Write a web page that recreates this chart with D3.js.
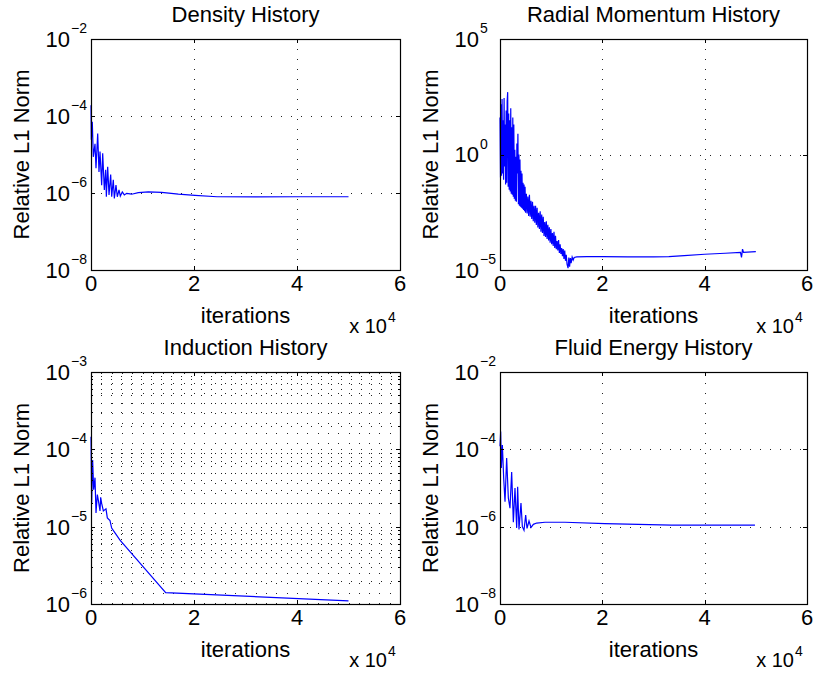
<!DOCTYPE html>
<html>
<head>
<meta charset="utf-8">
<style>
  body { margin: 0; background: #fff; }
  text { font-family: "Liberation Sans", Arial, Helvetica, sans-serif; fill: #000; }
</style>
</head>
<body>
<script src="https://cdn.jsdelivr.net/npm/d3@7"></script>
<script>

// x axis ticks (iterations), labelled in units of 10^4
var xTickValues = [0, 20000, 40000, 60000];

// y axis decades (exponents) for each panel
var densityTicks = [-8, -6, -4, -2];
var radialTicks = [-5, 0, 5];
var inductionTicks = [-6, -5, -4, -3];
var energyTicks = [-8, -6, -4, -2];

// [iteration, relative L1 norm]
var densityData = [
    [0, 1.9e-4], [60, 2.4e-5], [250, 7.1e-5], [450, 8.7e-6], [780, 1.9e-5],
    [970, 4.4e-6], [1300, 3.5e-5], [1550, 3.5e-6], [1750, 1.2e-5], [2070, 1.6e-6],
    [2270, 1.07e-5], [2590, 1.2e-6], [2850, 4.0e-6], [2980, 8.0e-7], [3240, 4.8e-6],
    [3500, 8.9e-7], [3820, 3.0e-6], [4020, 8.0e-7], [4330, 2.2e-6], [4530, 7.2e-7],
    [4850, 1.6e-6], [5110, 8.0e-7], [5440, 1.2e-6], [5690, 8.3e-7], [6080, 1.07e-6],
    [6470, 8.9e-7], [6930, 9.8e-7], [7900, 9.3e-7], [9180, 1.02e-6], [11130, 1.07e-6],
    [13720, 1.04e-6], [16960, 9.3e-7], [20190, 8.7e-7], [24470, 8.0e-7], [32000, 7.9e-7],
    [40000, 8.0e-7], [50000, 8.0e-7]
];

var radialData = [
    [0, 40], [100, 0.1], [200, 150], [300, 0.12], [400, 250], [500, 0.15], [600, 30],
    [700, 0.08], [800, 280], [900, 0.3], [1000, 20], [1100, 0.05], [1200, 80], [1300, 0.06],
    [1400, 200], [1500, 500], [1600, 0.04], [1700, 60], [1800, 0.03], [1900, 30], [2000, 0.025],
    [2100, 100], [2200, 0.02], [2300, 15], [2400, 0.018], [2500, 40], [2600, 0.015], [2700, 20],
    [2800, 0.012], [2900, 1.6], [3000, 0.01], [3100, 0.8], [3200, 0.009], [3300, 3], [3400, 0.15],
    [3500, 8], [3600, 0.007], [3700, 1], [3800, 0.006], [3900, 0.6], [4000, 0.0055], [4100, 0.2],
    [4200, 0.005], [4300, 0.15], [4400, 0.0045], [4500, 0.06], [4600, 0.004], [4700, 0.05],
    [4800, 0.0035], [4900, 0.04], [5000, 0.003], [5150, 0.02], [5300, 0.0028], [5450, 0.015],
    [5600, 0.0022], [5750, 0.018], [5900, 0.002], [6050, 0.01], [6200, 0.0016], [6350, 0.009],
    [6500, 0.0013], [6650, 0.006], [6800, 0.0011], [6950, 0.006], [7100, 9e-4], [7250, 0.005],
    [7400, 7e-4], [7550, 0.003], [7700, 6e-4], [7850, 0.0035], [8000, 4.5e-4], [8150, 0.0025],
    [8300, 4e-4], [8450, 0.002], [8600, 3e-4], [8750, 0.0012], [8900, 2.7e-4], [9050, 0.0013],
    [9200, 2.2e-4], [9350, 9e-4], [9500, 1.9e-4], [9650, 7e-4], [9800, 1.5e-4], [9950, 6e-4],
    [10100, 1.3e-4], [10250, 4e-4], [10400, 1.1e-4], [10550, 4.5e-4], [10700, 9e-5], [10850, 3e-4],
    [11000, 8e-5], [11150, 1.8e-4], [11300, 7e-5], [11450, 2e-4], [11600, 5.5e-5], [11750, 1.3e-4],
    [11900, 5e-5], [12050, 9e-5], [12200, 4e-5], [12350, 8e-5], [12500, 3e-5], [12650, 7e-5],
    [12800, 2.5e-5], [12950, 4.5e-5], [13100, 1.8e-5], [13300, 1.2e-5], [13450, 3.5e-5], [13600, 1.4e-5],
    [13750, 3.3e-5], [13900, 2e-5], [14100, 3.6e-5], [14300, 2.7e-5], [14500, 3.5e-5], [15000, 3.7e-5],
    [17000, 3.8e-5], [20000, 3.8e-5], [25000, 3.7e-5], [30000, 3.7e-5], [33000, 3.8e-5], [36000, 4.2e-5],
    [40000, 4.8e-5], [44000, 5.3e-5], [47000, 5.8e-5], [47200, 3.5e-5], [47400, 8e-5], [47600, 5.8e-5],
    [50000, 6.2e-5]
];

var inductionData = [
    [0, 1.45e-4], [130, 2.0e-5], [320, 7.3e-5], [520, 3.0e-5], [780, 4.3e-5], [970, 1.5e-5],
    [1230, 2.6e-5], [1420, 2.2e-5], [1750, 1.6e-5], [1880, 2.4e-5], [2070, 2.0e-5], [2400, 1.6e-5],
    [2910, 1.7e-5], [3170, 1.3e-5], [3690, 1.2e-5], [4010, 9.6e-6], [4660, 8.3e-6], [5630, 6.7e-6],
    [14500, 1.4e-6], [50000, 1.1e-6]
];

var energyData = [
    [0, 1.2e-4], [130, 2.9e-4], [260, 3.3e-5], [460, 1.3e-4], [720, 1.8e-5], [980, 4.4e-6],
    [1300, 6.0e-5], [1630, 5.5e-6], [1950, 3.0e-6], [2280, 2.6e-5], [2610, 1.3e-6], [2930, 1.0e-5],
    [3260, 9.3e-7], [3450, 1.07e-5], [3710, 8.5e-7], [4100, 4.1e-6], [4370, 1.0e-6], [4690, 8.1e-7],
    [5020, 2.0e-6], [5280, 9.0e-7], [5670, 1.4e-6], [6060, 9.5e-7], [6520, 1.15e-6], [7160, 1.24e-6],
    [8790, 1.3e-6], [12700, 1.3e-6], [20500, 1.2e-6], [33550, 1.1e-6], [49830, 1.1e-6]
];

var panels = [
    { title: "Density History", data: densityData, ticks: densityTicks, minor: false,
      left: 91, top: 39, width: 309, height: 231 },
    { title: "Radial Momentum History", data: radialData, ticks: radialTicks, minor: false,
      left: 500, top: 39, width: 307, height: 231 },
    { title: "Induction History", data: inductionData, ticks: inductionTicks, minor: true,
      left: 91, top: 372, width: 309, height: 232 },
    { title: "Fluid Energy History", data: energyData, ticks: energyTicks, minor: false,
      left: 500, top: 372, width: 307, height: 232 }
];

var svg = d3.select("body").append("svg")
    .attr("width", 815)
    .attr("height", 675);

var tickLen = 4;
var gridDash = "1,9";

panels.forEach(drawPanel);

function drawPanel(p) {
    var g = svg.append("g")
        .attr("transform", "translate(" + p.left + "," + p.top + ")");

    var x = d3.scaleLinear()
        .domain([0, 60000])
        .range([0, p.width]);

    var lo = Math.pow(10, p.ticks[0]),
        hi = Math.pow(10, p.ticks[p.ticks.length - 1]);
    var y = d3.scaleLog()
        .domain([lo, hi])
        .range([p.height, 0]);

    var yMajor = p.ticks.map(function(e) { return Math.pow(10, e); });

    // grid
    var xGrid = p.minor ? d3.range(2000, 60000, 2000) : [20000, 40000];
    var yGrid = yMajor.slice(1, -1);
    var yMinor = [];
    if (p.minor) {
        for (var e = p.ticks[0]; e < p.ticks[p.ticks.length - 1]; e++) {
            for (var k = 2; k <= 9; k++) yMinor.push(k * Math.pow(10, e));
        }
        yGrid = yGrid.concat(yMinor);
    }

    var grid = g.append("g")
        .attr("stroke", "#222")
        .attr("stroke-width", 1)
        .attr("stroke-dasharray", gridDash);

    grid.selectAll(".gx").data(xGrid).enter().append("line")
        .attr("x1", function(d) { return Math.round(x(d)) + 0.5; })
        .attr("x2", function(d) { return Math.round(x(d)) + 0.5; })
        .attr("y1", p.height)
        .attr("y2", 0);

    grid.selectAll(".gy").data(yGrid).enter().append("line")
        .attr("x1", 0)
        .attr("x2", p.width)
        .attr("y1", function(d) { return Math.round(y(d)) + 0.5; })
        .attr("y2", function(d) { return Math.round(y(d)) + 0.5; });

    // data line
    var line = d3.line()
        .x(function(d) { return x(d[0]); })
        .y(function(d) { return y(d[1]); });

    g.append("path")
        .datum(p.data)
        .attr("fill", "none")
        .attr("stroke", "#0000ff")
        .attr("stroke-width", 1.2)
        .attr("d", line);

    // inward ticks on all four sides
    var ticks = g.append("g").attr("stroke", "#000").attr("stroke-width", 1);
    var xt = xTickValues.slice(1, -1);
    xt.forEach(function(v) {
        var px = Math.round(x(v)) + 0.5;
        ticks.append("line").attr("x1", px).attr("x2", px).attr("y1", p.height).attr("y2", p.height - tickLen);
        ticks.append("line").attr("x1", px).attr("x2", px).attr("y1", 0).attr("y2", tickLen);
    });
    yMajor.slice(1, -1).forEach(function(v) {
        var py = Math.round(y(v)) + 0.5;
        ticks.append("line").attr("x1", 0).attr("x2", tickLen).attr("y1", py).attr("y2", py);
        ticks.append("line").attr("x1", p.width).attr("x2", p.width - tickLen).attr("y1", py).attr("y2", py);
    });
    if (p.minor) {
        yMinor.forEach(function(v) {
            var py = Math.round(y(v)) + 0.5;
            ticks.append("line").attr("x1", 0).attr("x2", tickLen / 2).attr("y1", py).attr("y2", py);
            ticks.append("line").attr("x1", p.width).attr("x2", p.width - tickLen / 2).attr("y1", py).attr("y2", py);
        });
    }

    // box
    g.append("rect")
        .attr("x", 0.5)
        .attr("y", 0.5)
        .attr("width", p.width)
        .attr("height", p.height)
        .attr("fill", "none")
        .attr("stroke", "#000")
        .attr("stroke-width", 1.2);

    // x tick labels
    g.selectAll(".xl").data(xTickValues).enter().append("text")
        .attr("x", function(d) { return x(d); })
        .attr("y", p.height + 21)
        .attr("text-anchor", "middle")
        .style("font-size", "22px")
        .text(function(d) { return d / 10000; });

    // y tick labels as 10^e
    p.ticks.forEach(function(e) {
        var py = y(Math.pow(10, e));
        g.append("text")
            .attr("x", -21)
            .attr("y", py)
            .attr("dy", "0.36em")
            .attr("text-anchor", "end")
            .style("font-size", "22px")
            .text("10");
        g.append("text")
            .attr("x", -20)
            .attr("y", py - 6)
            .style("font-size", "14px")
            .text(e < 0 ? "\u2212" + (-e) : String(e));
    });

    // title
    g.append("text")
        .attr("x", p.width / 2)
        .attr("y", -17)
        .attr("text-anchor", "middle")
        .style("font-size", "22px")
        .text(p.title);

    // axis labels
    g.append("text")
        .attr("x", p.width / 2)
        .attr("y", p.height + 53)
        .attr("text-anchor", "middle")
        .style("font-size", "22px")
        .text("iterations");

    g.append("text")
        .attr("transform", "translate(-62," + (p.height / 2) + ") rotate(-90)")
        .attr("text-anchor", "middle")
        .style("font-size", "22px")
        .text("Relative L1 Norm");

    // x 10^4 multiplier
    g.append("text")
        .attr("x", p.width - 13)
        .attr("y", p.height + 63)
        .attr("text-anchor", "end")
        .style("font-size", "20px")
        .text("x 10");
    g.append("text")
        .attr("x", p.width - 12)
        .attr("y", p.height + 52)
        .style("font-size", "14px")
        .text("4");
}

</script>
</body>
</html>
